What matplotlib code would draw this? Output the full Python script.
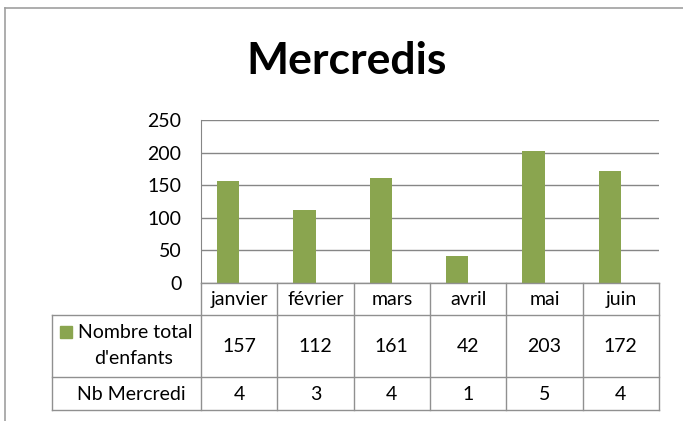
import numpy as np
import matplotlib.pyplot as plt
from matplotlib.lines import Line2D
from matplotlib.patches import Rectangle
import matplotlib.transforms as mtransforms

plt.rcParams['font.family'] = ['Lato', 'DejaVu Sans']

mois = ['janvier', 'février', 'mars', 'avril', 'mai', 'juin']
enfants = [157, 112, 161, 42, 203, 172]
nb_mercredi = [4, 3, 4, 1, 5, 4]
serie1 = ['Nombre total', "d'enfants"]
serie2 = 'Nb Mercredi'

W, H = 683, 421
green = '#8AA54F'
grid = '#868686'
fs = 14

fig = plt.figure(figsize=(W / 100, H / 100), dpi=100)


def fy(y):
    return 1 - y / H


def fx(x):
    return x / W


ax = fig.add_axes([fx(201), fy(283), fx(659) - fx(201), fy(120) - fy(283)])
idx = np.arange(len(mois))
w = 0.29
# second series (Nb Mercredi) sits next to it but is not filled in Excel
ax.bar(idx - w / 2, enfants, w, color=green, zorder=3)
ax.set_xlim(-0.5, len(mois) - 0.5)
ax.set_ylim(0, 250)
ax.set_yticks(range(0, 251, 50))
ax.tick_params(axis='y', length=0, labelsize=fs, pad=14)
ax.set_xticks([])
ax.yaxis.grid(True, color=grid, lw=1)
for s in ['top', 'right', 'bottom']:
    ax.spines[s].set_visible(False)
ax.spines['left'].set_color(grid)
ax.set_facecolor('none')

# title
fig.text(fx(347), fy(74), 'Mercredis', ha='center', va='baseline',
         fontsize=32, fontweight='bold')

# outer chart border
fig.add_artist(Line2D([fx(5), fx(5)], [fy(8), 0], color='#A0A0A0', lw=1.2))
fig.add_artist(Line2D([fx(5), 1], [fy(8), fy(8)], color='#A0A0A0', lw=1.2))

# data table
tr = mtransforms.blended_transform_factory(ax.transData, fig.transFigure)
y_head, y_r1, y_r2, y_end = 283, 315, 377, 410
x_left = 52
lc = '#909090'


def hline(x0, x1, y):
    fig.add_artist(Line2D([fx(x0), fx(x1)], [fy(y), fy(y)], color=lc, lw=1))


hline(201, 659, y_head)
for y in (y_r1, y_r2, y_end):
    hline(x_left, 659, y)
fig.add_artist(Line2D([fx(x_left)] * 2, [fy(y_r1), fy(y_end)], color=lc, lw=1))
for b in np.arange(len(mois) + 1) - 0.5:
    ax.add_artist(Line2D([b, b], [fy(y_head), fy(y_end)], color=lc, lw=1,
                         transform=tr, clip_on=False))

for i, m in enumerate(mois):
    fig.text(i, fy(305), m, transform=tr, ha='center', va='baseline',
             fontsize=fs)
    fig.text(i, fy(352), str(enfants[i]), transform=tr, ha='center',
             va='baseline', fontsize=fs)
    fig.text(i, fy(400), str(nb_mercredi[i]), transform=tr, ha='center',
             va='baseline', fontsize=fs)

fig.add_artist(Rectangle((fx(60), fy(338)), fx(12), fy(326) - fy(338),
                         color=green))
fig.text(fx(135), fy(338), serie1[0], ha='center', va='baseline', fontsize=fs)
fig.text(fx(134), fy(364), serie1[1], ha='center', va='baseline', fontsize=fs)
fig.text(fx(131), fy(400), serie2, ha='center', va='baseline', fontsize=fs)

fig.savefig('out.png', dpi=100)
